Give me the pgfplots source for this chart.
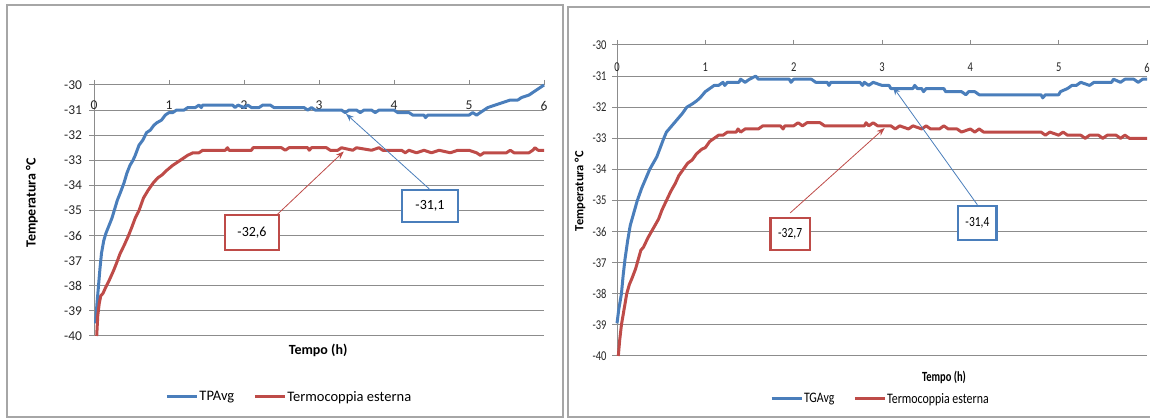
\documentclass[border=0pt]{standalone}
\usepackage{pgfplots}
\pgfplotsset{compat=1.18}
\usepackage{fontspec}
\setmainfont{Carlito}
\usetikzlibrary{arrows.meta}
\definecolor{xblue}{HTML}{4A7EBB}
\definecolor{xred}{HTML}{BE4B48}
\definecolor{xgrid}{HTML}{8C8C8C}
\definecolor{xframe}{HTML}{A6A6A6}

\pgfplotsset{
 excel/.style={
  scale only axis, clip=false,
  xmin=0,xmax=6,ymin=-40,ymax=-30,
  xtick={0,1,2,3,4,5,6}, ytick={-40,-39,-38,-37,-36,-35,-34,-33,-32,-31,-30},
  axis x line=top, axis y line=left,
  axis line style={xgrid, line width=1pt, -},
  ymajorgrids, grid style={xgrid, line width=1pt},
  tick align=outside, major tick length=5pt, tick style={xgrid, line width=1pt},
  /pgf/number format/assume math mode=true,
  xticklabel style={anchor=north, inner sep=0pt, yshift=-21pt},
  yticklabel style={xshift=-3.5pt},
  tick label style={font=\fontsize{13.5}{15}\selectfont, text=black!85},
  label style={font=\fontsize{14}{16}\selectfont\bfseries},
  legend columns=2,
  legend cell align=left,
  legend image code/.code={\draw[#1, line width=3pt] (0pt,0pt) -- (30pt,0pt);},
  legend style={draw=none, fill=none, anchor=center, font=\fontsize{14.5}{16}\selectfont,
    /tikz/every even column/.append style={column sep=18pt},
    nodes={inner sep=1pt}},
 },
 bl/.style={xblue, line width=3pt, line join=round},
 rd/.style={xred, line width=3pt, line join=round},
}

\begin{document}
\begin{tikzpicture}
\useasboundingbox (0pt,0pt) rectangle (1150pt,419pt);
\draw[xframe, line width=1.3pt] (7pt,2pt) rectangle (563pt,414pt);
\draw[xframe, line width=1.3pt] (568pt,2pt) rectangle (1160pt,412pt);

% ---------------- left panel ----------------
\begin{axis}[excel,
  at={(94pt,83pt)}, anchor=south west, width=450pt, height=251pt,
  xlabel={Tempo (h)}, ylabel={Temperatura °C},
  xlabel style={at={(axis description cs:0.498,-0.056)}, anchor=center},
  ylabel style={at={(axis description cs:-0.138,0.53)}, anchor=center},
  legend style={at={(axis description cs:0.433,-0.243)}},
]
\addplot[bl] coordinates {
(0.02,-39.5) (0.04,-38.7) (0.06,-38.0) (0.08,-37.3) (0.10,-36.7) (0.13,-36.2) (0.16,-35.9) (0.20,-35.6) (0.24,-35.3) (0.28,-34.9) (0.31,-34.6) (0.35,-34.3) (0.40,-33.9) (0.44,-33.5) (0.48,-33.2) (0.52,-33.0) (0.55,-32.8) (0.60,-32.4) (0.65,-32.2) (0.70,-31.9) (0.75,-31.8) (0.80,-31.6) (0.84,-31.5) (0.90,-31.4) (0.95,-31.2) (1.00,-31.1) (1.05,-31.1) (1.10,-31.0) (1.20,-31.0) (1.25,-30.9) (1.35,-30.9) (1.40,-30.8) (1.43,-30.9) (1.45,-30.8) (1.85,-30.8) (1.88,-30.9) (1.92,-30.8) (2.0,-30.9) (2.05,-30.8) (2.1,-30.9) (2.2,-30.9) (2.25,-30.8) (2.35,-30.8) (2.4,-30.9) (2.6,-30.9) (2.8,-30.9) (2.85,-31.0) (2.9,-30.9) (2.95,-31.0) (3.3,-31.0) (3.35,-31.1) (3.4,-31.0) (3.5,-31.0) (3.55,-31.1) (3.6,-31.0) (3.7,-31.0) (3.75,-31.1) (3.8,-31.0) (4.0,-31.0) (4.05,-31.1) (4.2,-31.1) (4.25,-31.2) (4.4,-31.2) (4.42,-31.3) (4.45,-31.2) (5.0,-31.2) (5.05,-31.1) (5.1,-31.2) (5.15,-31.1) (5.2,-31.0) (5.25,-30.9) (5.35,-30.8) (5.45,-30.7) (5.55,-30.6) (5.65,-30.6) (5.7,-30.5) (5.8,-30.4) (5.85,-30.3) (5.9,-30.2) (5.95,-30.1) (6.0,-30.0)
};
\addlegendentry{TPAvg}
\addplot[rd] coordinates {
(0.036,-40.0) (0.05,-39.2) (0.07,-38.7) (0.09,-38.4) (0.12,-38.3) (0.15,-38.1) (0.2,-37.8) (0.26,-37.4) (0.3,-37.1) (0.35,-36.7) (0.4,-36.4) (0.46,-36.0) (0.5,-35.7) (0.55,-35.3) (0.6,-35.0) (0.66,-34.5) (0.72,-34.2) (0.79,-33.9) (0.85,-33.7) (0.9,-33.6) (0.97,-33.4) (1.05,-33.2) (1.15,-33.0) (1.2,-32.9) (1.25,-32.8) (1.32,-32.7) (1.4,-32.7) (1.45,-32.6) (1.75,-32.6) (1.78,-32.5) (1.8,-32.6) (2.1,-32.6) (2.12,-32.5) (2.2,-32.5) (2.5,-32.5) (2.55,-32.6) (2.6,-32.5) (2.85,-32.5) (2.87,-32.6) (2.9,-32.5) (3.1,-32.5) (3.15,-32.6) (3.25,-32.6) (3.3,-32.5) (3.45,-32.6) (3.5,-32.5) (3.7,-32.6) (3.8,-32.5) (3.85,-32.6) (4.1,-32.6) (4.15,-32.7) (4.2,-32.6) (4.3,-32.7) (4.4,-32.6) (4.5,-32.7) (4.6,-32.6) (4.75,-32.7) (4.85,-32.6) (5.0,-32.6) (5.1,-32.7) (5.15,-32.8) (5.2,-32.7) (5.5,-32.7) (5.55,-32.6) (5.6,-32.7) (5.8,-32.7) (5.85,-32.6) (5.88,-32.5) (5.92,-32.6) (6.0,-32.6)
};
\addlegendentry{Termocoppia esterna}
\draw[xblue, line width=0.8pt, -{Stealth[length=8pt,width=6pt]}] (axis cs:4.47,-34.14) -- (axis cs:3.36,-31.15);
\draw[xred, line width=0.8pt, -{Stealth[length=8pt,width=6pt]}] (axis cs:2.45,-35.14) -- (axis cs:3.33,-32.65);
\node[draw=xblue, line width=2.5pt, fill=white, minimum width=56pt, minimum height=32pt, font=\fontsize{14}{16}\selectfont] at (axis cs:4.48,-34.82) {-31,1};
\node[draw=xred, line width=2.5pt, fill=white, minimum width=54pt, minimum height=35pt, font=\fontsize{14}{16}\selectfont] at (axis cs:2.107,-35.88) {-32,6};
\end{axis}

% ---------------- right panel ----------------
\begin{axis}[excel,
  at={(617pt,63pt)}, anchor=south west, width=530pt, height=311pt,
  xlabel={Tempo (h)}, ylabel={Temperatura °C},
  tick label style={xscale=0.78},
  xticklabel style={yshift=-2pt},
  xlabel style={at={(axis description cs:0.617,-0.068)}, anchor=center, xscale=0.75},
  ylabel style={at={(axis description cs:-0.0698,0.53)}, anchor=center, font=\fontsize{12.5}{14}\selectfont\bfseries},
  legend style={at={(axis description cs:0.496,-0.138)}, nodes={xscale=0.82}},
]
\addplot[bl] coordinates {
(0.0,-38.95) (0.02,-38.5) (0.05,-38.0) (0.07,-37.4) (0.09,-36.9) (0.12,-36.3) (0.15,-35.8) (0.19,-35.4) (0.23,-35.0) (0.28,-34.6) (0.34,-34.2) (0.37,-34.0) (0.41,-33.8) (0.45,-33.6) (0.49,-33.3) (0.53,-33.0) (0.56,-32.8) (0.62,-32.6) (0.68,-32.4) (0.74,-32.2) (0.79,-32.0) (0.85,-31.9) (0.9,-31.8) (0.94,-31.7) (1.0,-31.5) (1.05,-31.4) (1.1,-31.3) (1.15,-31.3) (1.2,-31.2) (1.22,-31.3) (1.25,-31.2) (1.38,-31.2) (1.4,-31.1) (1.45,-31.2) (1.5,-31.1) (1.57,-31.0) (1.6,-31.1) (1.95,-31.1) (1.97,-31.2) (2.0,-31.1) (2.2,-31.1) (2.25,-31.2) (2.38,-31.2) (2.4,-31.3) (2.42,-31.2) (2.75,-31.2) (2.78,-31.3) (2.8,-31.2) (2.85,-31.3) (2.9,-31.2) (3.0,-31.3) (3.08,-31.3) (3.1,-31.4) (3.35,-31.4) (3.37,-31.3) (3.4,-31.4) (3.45,-31.4) (3.47,-31.5) (3.5,-31.4) (3.7,-31.4) (3.72,-31.5) (3.9,-31.5) (3.95,-31.6) (3.98,-31.5) (4.05,-31.5) (4.1,-31.6) (4.8,-31.6) (4.82,-31.7) (4.85,-31.6) (5.0,-31.6) (5.02,-31.5) (5.1,-31.4) (5.15,-31.3) (5.2,-31.3) (5.25,-31.2) (5.35,-31.3) (5.4,-31.2) (5.6,-31.2) (5.62,-31.1) (5.7,-31.2) (5.75,-31.1) (5.85,-31.1) (5.9,-31.2) (5.95,-31.1) (6.0,-31.1)
};
\addlegendentry{TGAvg}
\addplot[rd] coordinates {
(0.015,-40.0) (0.03,-39.5) (0.05,-39.0) (0.08,-38.5) (0.11,-38.0) (0.14,-37.7) (0.17,-37.5) (0.21,-37.2) (0.24,-36.9) (0.27,-36.6) (0.3,-36.5) (0.35,-36.2) (0.39,-36.0) (0.43,-35.8) (0.47,-35.6) (0.51,-35.3) (0.56,-35.0) (0.61,-34.7) (0.66,-34.45) (0.7,-34.2) (0.75,-34.0) (0.8,-33.8) (0.85,-33.7) (0.9,-33.5) (0.96,-33.35) (1.0,-33.3) (1.05,-33.1) (1.1,-33.0) (1.15,-32.9) (1.2,-32.9) (1.25,-32.8) (1.35,-32.8) (1.37,-32.7) (1.4,-32.8) (1.45,-32.7) (1.6,-32.7) (1.65,-32.6) (1.85,-32.6) (1.88,-32.7) (1.9,-32.6) (2.0,-32.6) (2.05,-32.5) (2.1,-32.6) (2.15,-32.5) (2.3,-32.5) (2.35,-32.6) (2.8,-32.6) (2.82,-32.5) (2.85,-32.6) (2.9,-32.5) (2.95,-32.6) (3.1,-32.6) (3.15,-32.7) (3.2,-32.6) (3.3,-32.7) (3.35,-32.6) (3.45,-32.7) (3.5,-32.6) (3.55,-32.7) (3.65,-32.7) (3.7,-32.6) (3.75,-32.7) (3.85,-32.7) (3.9,-32.8) (4.0,-32.7) (4.05,-32.8) (4.1,-32.7) (4.15,-32.8) (4.8,-32.8) (4.85,-32.9) (4.9,-32.8) (5.0,-32.9) (5.05,-32.8) (5.1,-32.9) (5.25,-32.9) (5.3,-33.0) (5.35,-32.9) (5.45,-32.9) (5.5,-33.0) (5.55,-32.9) (5.65,-32.9) (5.7,-33.0) (5.75,-32.9) (5.8,-33.0) (6.0,-33.0)
};
\addlegendentry{Termocoppia esterna}
\draw[xred, line width=0.8pt, -{Stealth[length=8pt,width=6pt]}] (axis cs:1.96,-35.40) -- (axis cs:3.03,-32.67);
\draw[xblue, line width=0.8pt, -{Stealth[length=8pt,width=6pt]}] (axis cs:4.08,-35.14) -- (axis cs:3.125,-31.35);
\node[draw=xred, line width=2.5pt, fill=white, minimum width=48pt, minimum height=32pt, font=\fontsize{14}{16}\selectfont, xscale=0.82] at (axis cs:1.96,-36.08) {-32,7};
\node[draw=xblue, line width=2.5pt, fill=white, minimum width=47pt, minimum height=34pt, font=\fontsize{14}{16}\selectfont, xscale=0.82] at (axis cs:4.08,-35.72) {-31,4};
\end{axis}
\end{tikzpicture}
\end{document}
